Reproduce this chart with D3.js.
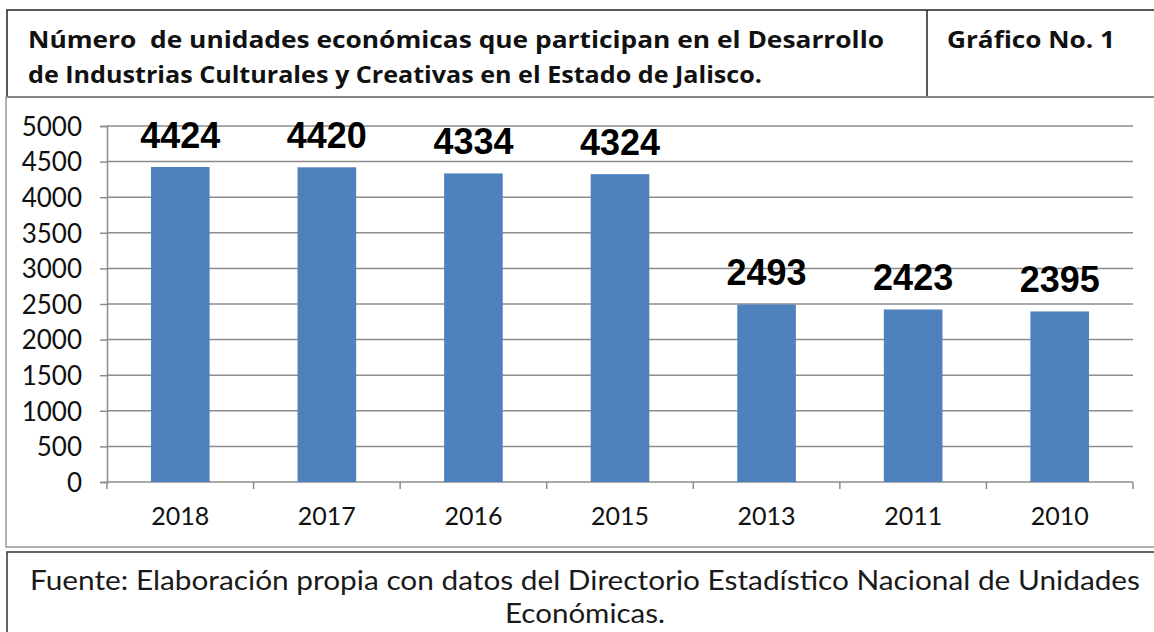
<!DOCTYPE html>
<html>
<head>
<meta charset="utf-8">
<script src="https://cdn.jsdelivr.net/npm/d3@7"></script>
<style>
  body { margin: 0; background: #fff; }
  svg { display: block; }
</style>
</head>
<body>
<div id="chart-area"></div>
<script>
var years = ["2018", "2017", "2016", "2015", "2013", "2011", "2010"];
var unidades = [4424, 4420, 4334, 4324, 2493, 2423, 2395];
var yTicks = [0, 500, 1000, 1500, 2000, 2500, 3000, 3500, 4000, 4500, 5000];
var titleLines = ["Número  de unidades económicas que participan en el Desarrollo",
                  "de Industrias Culturales y Creativas en el Estado de Jalisco."];
var chartLabel = "Gráfico No. 1";
var sourceLines = ["Fuente: Elaboración propia con datos del Directorio Estadístico Nacional de Unidades",
                   "Económicas."];

var W = 1154, H = 632;
var svg = d3.select("#chart-area").append("svg")
    .attr("width", W)
    .attr("height", H);

var titleFont = "'Open Sans', sans-serif";
var textFont = "Lato, sans-serif";

// header box
svg.append("rect")
    .attr("x", 7).attr("y", 10)
    .attr("width", W + 10).attr("height", 87)
    .attr("fill", "none").attr("stroke", "#222").attr("stroke-width", 1.5);
svg.append("line")
    .attr("x1", 927).attr("x2", 927).attr("y1", 10).attr("y2", 97)
    .attr("stroke", "#222").attr("stroke-width", 1.5);

svg.selectAll(".title")
    .data(titleLines)
    .enter().append("text")
    .attr("class", "title")
    .attr("x", 28)
    .attr("y", (d, i) => 48 + i * 35)
    .attr("textLength", (d, i) => i == 0 ? 856 : 734)
    .attr("lengthAdjust", "spacingAndGlyphs")
    .style("white-space", "pre")
    .style("font-family", titleFont)
    .style("font-weight", "bold")
    .style("font-size", "24px")
    .attr("fill", "#111")
    .text(d => d);

svg.append("text")
    .attr("x", 947).attr("y", 48)
    .attr("textLength", 168)
    .attr("lengthAdjust", "spacingAndGlyphs")
    .style("font-family", titleFont)
    .style("font-weight", "bold")
    .style("font-size", "24px")
    .attr("fill", "#111")
    .text(chartLabel);

// chart frame
svg.append("rect")
    .attr("x", 6).attr("y", 97)
    .attr("width", W + 10).attr("height", 450)
    .attr("fill", "none").attr("stroke", "#999").attr("stroke-width", 1.5);

// footer box
svg.append("rect")
    .attr("x", 7).attr("y", 552)
    .attr("width", W + 10).attr("height", 100)
    .attr("fill", "none").attr("stroke", "#333").attr("stroke-width", 1.5);

svg.selectAll(".source")
    .data(sourceLines)
    .enter().append("text")
    .attr("class", "source")
    .attr("x", 585)
    .attr("y", (d, i) => 590 + i * 33)
    .attr("text-anchor", "middle")
    .attr("textLength", (d, i) => i == 0 ? 1110 : 160)
    .attr("lengthAdjust", "spacingAndGlyphs")
    .style("font-family", textFont)
    .style("font-size", "27px")
    .attr("fill", "#1a1a1a")
    .text(d => d);

// plot
var x = d3.scaleBand()
    .domain(years)
    .range([107, 1133])
    .paddingInner(0.6)
    .paddingOuter(0.3);

var xOuter = d3.scaleBand()
    .domain(years)
    .range([107, 1133]);

var y = d3.scaleLinear()
    .domain([0, 5000])
    .range([482, 126]);

svg.selectAll(".grid")
    .data(yTicks.slice(1))
    .enter().append("line")
    .attr("class", "grid")
    .attr("x1", 107).attr("x2", 1133)
    .attr("y1", d => y(d)).attr("y2", d => y(d))
    .attr("stroke", "#8c8c8c").attr("stroke-width", 1.5);

var yAxis = svg.append("g")
    .attr("transform", "translate(107,0)")
    .call(d3.axisLeft(y).tickValues(yTicks).tickFormat(d3.format("d")).tickSize(7).tickPadding(18));
yAxis.select(".domain").attr("stroke", "#8c8c8c").attr("stroke-width", 1.5);
yAxis.selectAll(".tick line").attr("stroke", "#8c8c8c").attr("stroke-width", 1.5);
yAxis.selectAll("text")
    .attr("dy", "0.36em")
    .style("font-family", textFont)
    .style("font-size", "26px")
    .attr("fill", "#111");

var xAxis = svg.append("g")
    .attr("transform", "translate(0,482)")
    .call(d3.axisBottom(xOuter).tickSize(0).tickPadding(25));
xAxis.select(".domain").remove();
xAxis.selectAll("text")
    .style("font-family", textFont)
    .style("font-size", "25px")
    .attr("fill", "#111");

svg.append("line")
    .attr("x1", 107).attr("x2", 1133).attr("y1", 482).attr("y2", 482)
    .attr("stroke", "#8c8c8c").attr("stroke-width", 1.5);

var tickPos = years.map(d => xOuter(d)).concat([1133]);
svg.selectAll(".xtick")
    .data(tickPos)
    .enter().append("line")
    .attr("class", "xtick")
    .attr("x1", d => d).attr("x2", d => d)
    .attr("y1", 482).attr("y2", 489)
    .attr("stroke", "#8c8c8c").attr("stroke-width", 1.5);

svg.selectAll(".bar")
    .data(unidades)
    .enter().append("rect")
    .attr("class", "bar")
    .attr("x", (d, i) => x(years[i]))
    .attr("y", d => y(d))
    .attr("width", x.bandwidth())
    .attr("height", d => y(0) - y(d))
    .attr("fill", "#4f81bd");

svg.selectAll(".label")
    .data(unidades)
    .enter().append("text")
    .attr("class", "label")
    .attr("x", (d, i) => x(years[i]) + x.bandwidth() / 2)
    .attr("y", d => y(d) - 19)
    .attr("text-anchor", "middle")
    .style("font-family", "'Liberation Sans', Arial, sans-serif")
    .style("font-weight", "bold")
    .style("font-size", "36px")
    .attr("fill", "#000")
    .text(d => d);
</script>
</body>
</html>
